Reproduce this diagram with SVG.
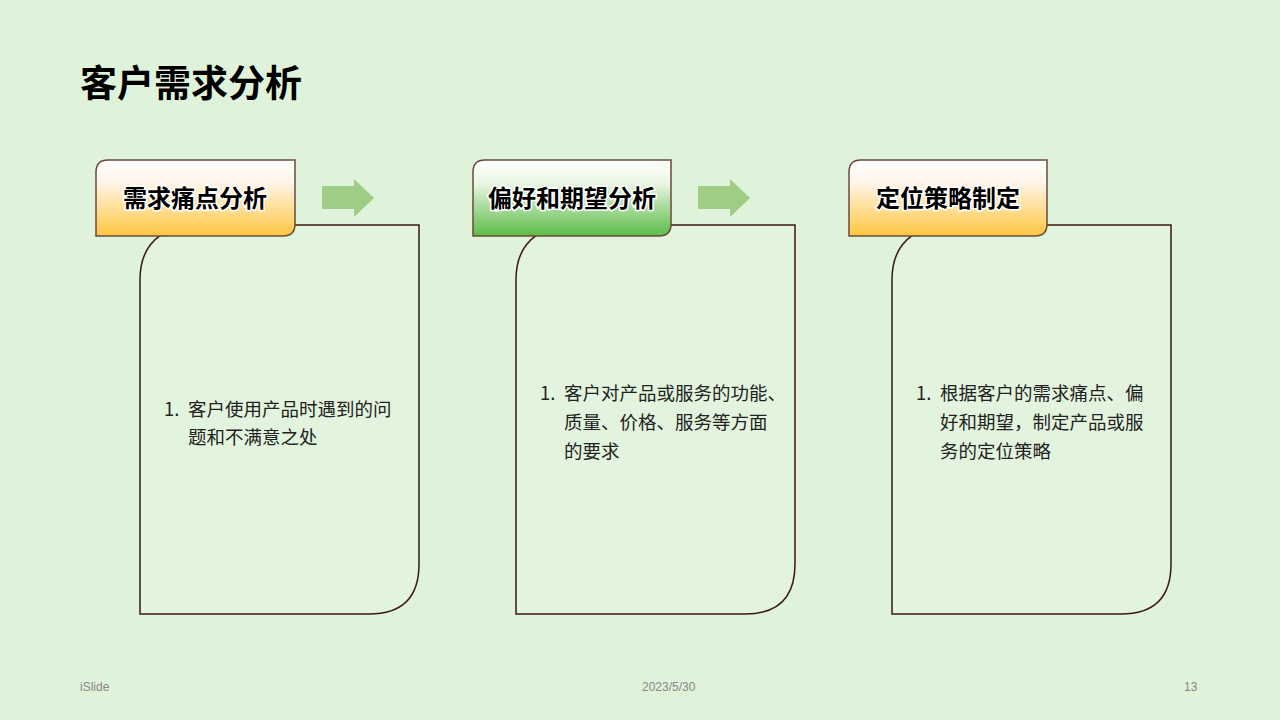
<svg xmlns="http://www.w3.org/2000/svg" width="1280" height="720" viewBox="0 0 1280 720">
<style>
.card{fill:#e3f4de;stroke:#3a1a10;stroke-width:1.5}
.hd{stroke:#6b4a3a;stroke-width:1.5}
.ht{font-family:"Noto Sans CJK SC",sans-serif;font-weight:bold;font-size:24px;fill:#000;stroke:#fff;stroke-width:3;paint-order:stroke;text-anchor:middle}
.bt{font-family:"Noto Sans CJK SC",sans-serif;font-size:18.5px;fill:#222}
.ft{font-family:"Liberation Sans",sans-serif;font-size:12px;fill:#888}
.ar{fill:#a0cd85}
</style>
<defs>
<linearGradient id="go" x1="0" y1="0" x2="0" y2="1"><stop offset="0" stop-color="#fff"/><stop offset="0.3" stop-color="#fff4e8"/><stop offset="1" stop-color="#ffc63f"/></linearGradient>
<linearGradient id="gg" x1="0" y1="0" x2="0" y2="1"><stop offset="0" stop-color="#fff"/><stop offset="0.3" stop-color="#eaf6e4"/><stop offset="1" stop-color="#5cbc48"/></linearGradient>
</defs>
<rect width="1280" height="720" fill="#dff2da"/>
<text x="80" y="97" font-family="Noto Sans CJK SC,sans-serif" font-weight="bold" font-size="37" fill="#000">客户需求分析</text>
<g id="node1">
<path class="card" d="M190 225 H419 V564 Q419 614 369 614 H140 V280 Q140 232 190 225 Z"/>
<path class="hd" fill="url(#go)" d="M108 160 H295 V224 Q295 236 283 236 H96 V172 Q96 160 108 160 Z"/>
<text class="ht" x="195" y="207">需求痛点分析</text>
<text class="bt" x="164" y="416">1.</text><text class="bt" x="188" y="416">客户使用产品时遇到的问</text>
<text class="bt" x="188" y="444">题和不满意之处</text>
</g>
<g id="node2">
<path class="card" d="M566 225 H795 V564 Q795 614 745 614 H516 V280 Q516 232 566 225 Z"/>
<path class="hd" fill="url(#gg)" d="M485 160 H671 V224 Q671 236 659 236 H473 V172 Q473 160 485 160 Z"/>
<text class="ht" x="572" y="207">偏好和期望分析</text>
<text class="bt" x="540" y="400">1.</text><text class="bt" x="564" y="400">客户对产品或服务的功能、</text>
<text class="bt" x="564" y="429">质量、价格、服务等方面</text>
<text class="bt" x="564" y="458">的要求</text>
</g>
<g id="node3">
<path class="card" d="M942 225 H1171 V564 Q1171 614 1121 614 H892 V280 Q892 232 942 225 Z"/>
<path class="hd" fill="url(#go)" d="M861 160 H1047 V224 Q1047 236 1035 236 H849 V172 Q849 160 861 160 Z"/>
<text class="ht" x="948" y="207">定位策略制定</text>
<text class="bt" x="916" y="400">1.</text><text class="bt" x="940" y="400">根据客户的需求痛点、偏</text>
<text class="bt" x="940" y="429">好和期望，制定产品或服</text>
<text class="bt" x="940" y="458">务的定位策略</text>
</g>
<g id="connectors">
<path class="ar" d="M322 186 H354 V179 L374 198 L354 217 V209 H322 Z"/>
<path class="ar" d="M698 186 H730 V179 L750 198 L730 217 V209 H698 Z"/>
</g>
<text class="ft" x="80" y="691">iSlide</text>
<text class="ft" x="642" y="691">2023/5/30</text>
<text class="ft" x="1184" y="691">13</text>
</svg>
